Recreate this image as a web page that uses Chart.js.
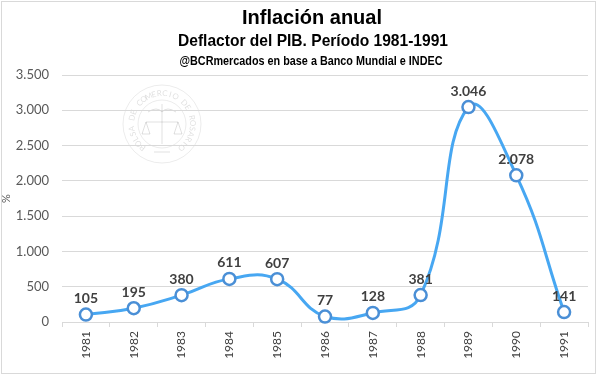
<!DOCTYPE html>
<html>
<head>
<meta charset="utf-8">
<script src="https://cdn.jsdelivr.net/npm/chart.js@4"></script>
<style>
  html, body { margin: 0; padding: 0; background: #fff; }
  #wrap { width: 600px; height: 376px; }
</style>
</head>
<body>
<div id="wrap"><canvas id="chart" width="600" height="376"></canvas></div>
<script>
// datos
const years = ['1981', '1982', '1983', '1984', '1985', '1986', '1987', '1988', '1989', '1990', '1991'];
const inflation = [105, 195, 380, 611, 607, 77, 128, 381, 3046, 2078, 141];
const yTicks = [0, 500, 1000, 1500, 2000, 2500, 3000, 3500];

const titleText = 'Inflación anual';
const subtitleText = 'Deflactor del PIB. Período 1981-1991';
const sourceText = '@BCRmercados en base a Banco Mundial e INDEC';

const narrow = "'Liberation Sans Narrow', 'Liberation Sans', Arial, sans-serif";
const body = "Lato, 'Open Sans', sans-serif";

function fmt(v) {
  return String(v).replace(/\B(?=(\d{3})+(?!\d))/g, '.');
}

// texto comprimido a un ancho dado
function fitText(ctx, text, cx, y, width) {
  const w = ctx.measureText(text).width;
  ctx.save();
  ctx.translate(cx, y);
  ctx.scale(width / w, 1);
  ctx.fillText(text, 0, 0);
  ctx.restore();
}

// marco, titulos y sello de fondo
const decoPlugin = {
  id: 'deco',
  beforeDraw(chart) {
    const ctx = chart.ctx;
    ctx.save();
    ctx.fillStyle = '#fff';
    ctx.fillRect(0, 0, chart.width, chart.height);
    ctx.strokeStyle = '#d9d9d9';
    ctx.lineWidth = 1;
    ctx.strokeRect(1.5, 1.5, 594, 372);

    ctx.fillStyle = '#000';
    ctx.textAlign = 'center';
    ctx.textBaseline = 'alphabetic';
    ctx.font = 'bold 20px ' + narrow;
    fitText(ctx, titleText, 312, 24, 140);
    ctx.font = 'bold 17px ' + narrow;
    fitText(ctx, subtitleText, 313, 46, 270);
    ctx.font = 'bold 12px ' + narrow;
    fitText(ctx, sourceText, 311, 65, 263);

    // sello
    const cx = 162, cy = 124;
    ctx.strokeStyle = 'rgba(0,0,0,0.08)';
    ctx.lineWidth = 1;
    ctx.beginPath(); ctx.arc(cx, cy, 39, 0, Math.PI * 2); ctx.stroke();
    ctx.beginPath(); ctx.arc(cx, cy, 24, 0, Math.PI * 2); ctx.stroke();
    ctx.fillStyle = 'rgba(0,0,0,0.13)';
    ctx.font = '8px ' + body;
    const txt = 'BOLSA DE COMERCIO DE ROSARIO';
    const start = Math.PI * 0.72;
    const span = Math.PI * 1.56;
    for (let i = 0; i < txt.length; i++) {
      const a = start + span * i / (txt.length - 1);
      ctx.save();
      ctx.translate(cx + Math.cos(a) * 31, cy + Math.sin(a) * 31);
      ctx.rotate(a + Math.PI / 2);
      ctx.fillText(txt[i], 0, 3);
      ctx.restore();
    }
    // caduceo y balanza
    ctx.strokeStyle = 'rgba(0,0,0,0.12)';
    ctx.beginPath();
    ctx.moveTo(cx, cy - 20); ctx.lineTo(cx, cy + 20);
    ctx.moveTo(cx - 16, cy - 2); ctx.lineTo(cx + 16, cy - 2);
    ctx.moveTo(cx - 16, cy - 2); ctx.lineTo(cx - 20, cy + 10); ctx.lineTo(cx - 12, cy + 10); ctx.closePath();
    ctx.moveTo(cx + 16, cy - 2); ctx.lineTo(cx + 12, cy + 10); ctx.lineTo(cx + 20, cy + 10); ctx.closePath();
    ctx.moveTo(cx - 14, cy - 12); ctx.quadraticCurveTo(cx - 5, cy - 18, cx, cy - 12);
    ctx.quadraticCurveTo(cx + 5, cy - 18, cx + 14, cy - 12);
    ctx.moveTo(cx - 8, cy + 28); ctx.lineTo(cx + 8, cy + 28);
    ctx.stroke();
    ctx.restore();
  }
};

// etiquetas de datos
const labelPlugin = {
  id: 'valueLabels',
  afterDatasetsDraw(chart) {
    const ctx = chart.ctx;
    const meta = chart.getDatasetMeta(0);
    ctx.save();
    ctx.font = 'bold 14px ' + body;
    ctx.fillStyle = '#404040';
    ctx.textAlign = 'center';
    ctx.textBaseline = 'bottom';
    meta.data.forEach((pt, i) => {
      ctx.fillText(fmt(inflation[i]), pt.x, pt.y - 9);
    });
    ctx.restore();
  }
};

function initChart() {
  const ctx = document.getElementById('chart').getContext('2d');

  new Chart(ctx, {
    type: 'line',
    data: {
      labels: years,
      datasets: [{
        data: inflation,
        borderColor: '#47a7f2',
        borderWidth: 3,
        tension: 0.45,
        pointRadius: 6,
        pointBorderWidth: 2.5,
        pointBackgroundColor: '#fff',
        pointBorderColor: '#4a8fd6',
        clip: false
      }]
    },
    options: {
      responsive: false,
      animation: false,
      layout: { padding: { top: 75, right: 12, left: 0, bottom: 0 } },
      plugins: {
        legend: { display: false },
        tooltip: { enabled: false }
      },
      scales: {
        x: {
          offset: true,
          grid: {
            offset: true,
            drawOnChartArea: false,
            drawTicks: true,
            tickLength: 5,
            color: '#d9d9d9'
          },
          border: { color: '#d9d9d9' },
          ticks: {
            minRotation: 90,
            maxRotation: 90,
            padding: 4,
            color: '#404040',
            font: { family: body, size: 12 }
          },
          afterFit(scale) { scale.height = 54; }
        },
        y: {
          min: 0,
          max: 3500,
          afterBuildTicks(scale) {
            scale.ticks = yTicks.map(v => ({ value: v }));
          },
          grid: { drawTicks: false, color: '#d9d9d9' },
          border: { display: false },
          ticks: {
            padding: 13,
            color: '#595959',
            font: { family: body, size: 13 },
            callback: v => fmt(v)
          },
          title: {
            display: true,
            text: '%',
            color: '#595959',
            padding: { top: 0, bottom: 0 },
            font: { family: body, size: 11 }
          },
          afterFit(scale) { scale.width = 62; }
        }
      }
    },
    plugins: [decoPlugin, labelPlugin]
  });
}

document.addEventListener('DOMContentLoaded', initChart);
</script>
</body>
</html>
